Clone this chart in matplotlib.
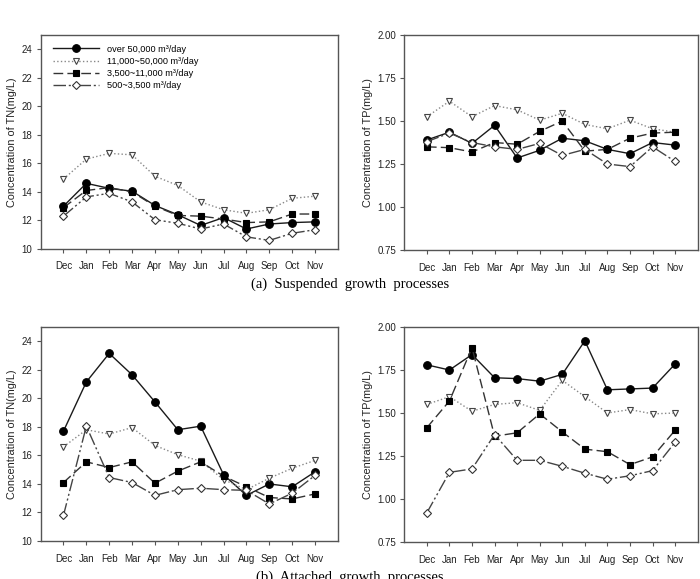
import matplotlib
matplotlib.use('Agg')
import matplotlib.pyplot as plt
import numpy as np

plt.rcParams['font.family'] = ['Liberation Sans', 'DejaVu Sans']

months = ['Dec', 'Jan', 'Feb', 'Mar', 'Apr', 'May', 'Jun', 'Jul', 'Aug', 'Sep', 'Oct', 'Nov']
labels = ['over 50,000 m\u00b3/day', '11,000~50,000 m\u00b3/day',
          '3,500~11,000 m\u00b3/day', '500~3,500 m\u00b3/day']

# (a) suspended growth
sus_tn_over50k = [13.0, 14.6, 14.25, 14.05, 13.05, 12.4, 11.65, 12.2, 11.4, 11.75, 11.85, 11.9]
sus_tn_11k_50k = [14.9, 16.3, 16.7, 16.6, 15.1, 14.45, 13.3, 12.75, 12.5, 12.75, 13.55, 13.7]
sus_tn_3k_11k = [12.9, 14.1, 14.3, 14.0, 13.0, 12.35, 12.3, 12.1, 11.85, 11.9, 12.45, 12.45]
sus_tn_500_3k = [12.3, 13.65, 13.9, 13.3, 12.05, 11.8, 11.4, 11.75, 10.85, 10.6, 11.1, 11.35]

sus_tp_over50k = [1.39, 1.435, 1.37, 1.475, 1.285, 1.33, 1.40, 1.385, 1.335, 1.31, 1.375, 1.36]
sus_tp_11k_50k = [1.525, 1.615, 1.525, 1.59, 1.565, 1.505, 1.545, 1.48, 1.455, 1.505, 1.455, 1.435]
sus_tp_3k_11k = [1.35, 1.345, 1.32, 1.375, 1.365, 1.44, 1.50, 1.325, 1.335, 1.40, 1.43, 1.435]
sus_tp_500_3k = [1.38, 1.43, 1.375, 1.35, 1.335, 1.37, 1.30, 1.335, 1.25, 1.235, 1.35, 1.265]

# (b) attached growth
att_tn_over50k = [17.7, 21.15, 23.15, 21.65, 19.75, 17.8, 18.05, 14.65, 13.2, 14.0, 13.8, 14.85]
att_tn_11k_50k = [16.6, 17.8, 17.5, 17.95, 16.7, 16.05, 15.6, 14.3, 13.6, 14.4, 15.1, 15.65]
att_tn_3k_11k = [14.1, 15.55, 15.15, 15.55, 14.05, 14.9, 15.55, 14.55, 13.8, 13.05, 12.95, 13.3]
att_tn_500_3k = [11.8, 18.05, 14.45, 14.1, 13.2, 13.6, 13.7, 13.6, 13.55, 12.6, 13.35, 14.6]

att_tp_over50k = [1.78, 1.75, 1.84, 1.705, 1.70, 1.685, 1.725, 1.92, 1.635, 1.64, 1.645, 1.785]
att_tp_11k_50k = [1.55, 1.595, 1.51, 1.55, 1.56, 1.515, 1.69, 1.595, 1.50, 1.52, 1.495, 1.50]
att_tp_3k_11k = [1.415, 1.57, 1.88, 1.365, 1.385, 1.495, 1.39, 1.29, 1.275, 1.20, 1.245, 1.40]
att_tp_500_3k = [0.92, 1.155, 1.175, 1.375, 1.225, 1.225, 1.19, 1.15, 1.115, 1.135, 1.165, 1.33]

styles = [
    dict(color='#1a1a1a', linestyle='-', marker='o', mfc='black', mec='black'),
    dict(color='#888888', linestyle=':', marker='v', mfc='white', mec='#444444'),
    dict(color='#333333', linestyle=(0, (7, 3)), marker='s', mfc='black', mec='black'),
    dict(color='#444444', linestyle=(0, (9, 2, 1.5, 2, 1.5, 2)), marker='D', mfc='white', mec='#333333'),
]
msizes = [5.5, 5, 5, 4.5]


def draw(ax, series, ylim, yticks, ylabel, yfmt):
    x = np.arange(len(months))
    for s, st, ms, lab in zip(series, styles, msizes, labels):
        ax.plot(x, s, lw=1.0, ms=ms, mew=0.8, label=lab, **st)
    ax.set_xlim(-1, 12)
    ax.set_ylim(*ylim)
    ax.set_xticks(x)
    ax.set_xticklabels(months)
    ax.set_yticks(yticks)
    ax.set_yticklabels([yfmt % v for v in yticks])
    ax.set_ylabel(ylabel, fontsize=7.8, color='#222222', labelpad=3)
    ax.tick_params(direction='out', length=3, width=0.8, labelsize=7, colors='#555555',
                   labelcolor='#222222', pad=3)
    ax.tick_params(axis='x', pad=6)
    for sp in ax.spines.values():
        sp.set_color('#555555')
        sp.set_linewidth(1.0)


fig = plt.figure(figsize=(7.0, 5.79), dpi=100)
ax1 = fig.add_axes([0.058, 0.570, 0.4247, 0.3696])
ax2 = fig.add_axes([0.5776, 0.5682, 0.4191, 0.3713])
ax3 = fig.add_axes([0.058, 0.0656, 0.4247, 0.3696])
ax4 = fig.add_axes([0.5776, 0.0639, 0.4191, 0.3713])

tn_ticks = np.arange(10, 25, 2)
tp_ticks = np.arange(0.75, 2.01, 0.25)

draw(ax1, [sus_tn_over50k, sus_tn_11k_50k, sus_tn_3k_11k, sus_tn_500_3k],
     (10, 25), tn_ticks, 'Concentration of TN(mg/L)', '%d')
draw(ax2, [sus_tp_over50k, sus_tp_11k_50k, sus_tp_3k_11k, sus_tp_500_3k],
     (0.75, 2.0), tp_ticks, 'Concentration of TP(mg/L)', '%.2f')
draw(ax3, [att_tn_over50k, att_tn_11k_50k, att_tn_3k_11k, att_tn_500_3k],
     (10, 25), tn_ticks, 'Concentration of TN(mg/L)', '%d')
draw(ax4, [att_tp_over50k, att_tp_11k_50k, att_tp_3k_11k, att_tp_500_3k],
     (0.75, 2.0), tp_ticks, 'Concentration of TP(mg/L)', '%.2f')

ax1.legend(loc='upper left', frameon=False, fontsize=6.6, handlelength=5.0,
           handletextpad=0.9, labelspacing=0.35, borderaxespad=0.3,
           bbox_to_anchor=(0.02, 0.985))

fig.text(0.5, 1 - 284 / 579, '(a)  Suspended  growth  processes', ha='center', va='center',
         fontsize=10.5, family=['Liberation Serif', 'DejaVu Serif'])
fig.text(0.5, 1 - 571 / 579, '(b)  Attached  growth  processes', ha='center', va='top',
         fontsize=10.5, family=['Liberation Serif', 'DejaVu Serif'])

fig.savefig('out.png', dpi=100)
